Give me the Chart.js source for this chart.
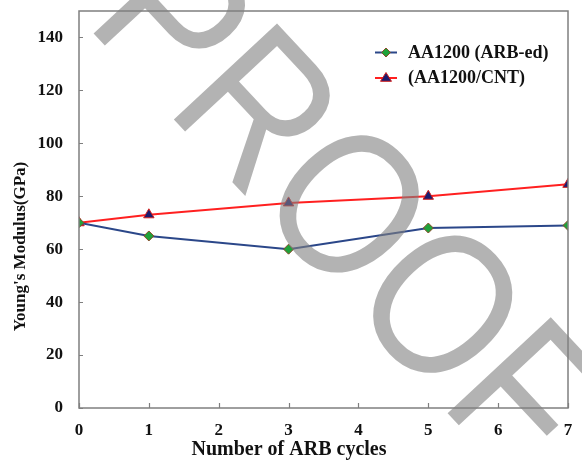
<!DOCTYPE html>
<html>
<head>
<meta charset="utf-8">
<script src="https://cdn.jsdelivr.net/npm/chart.js@4.4.1/dist/chart.umd.min.js"></script>
<style>
  html, body { margin: 0; padding: 0; background: #ffffff; }
  #wrap { width: 582px; height: 462px; position: relative; }
</style>
</head>
<body>
<div id="wrap"><canvas id="c" width="582" height="462"></canvas></div>
<script>
// ---- data ----
const cycles = [0, 1, 3, 5, 7];
const arbEd = [70, 65, 60, 68, 69];
const arbCnt = [70, 73, 77.5, 80, 84.5];
const seriesLabels = ['AA1200 (ARB-ed)', '(AA1200/CNT)'];
const xTitle = 'Number of ARB cycles';
const yTitle = "Young's Modulus(GPa)";
const watermarkText = 'PROOF';

const serif = "'Liberation Serif', 'Times New Roman', serif";

const toPoints = (xs, ys) => xs.map((x, i) => ({ x: x, y: ys[i] }));

const frameAndTicks = {
  id: 'frameAndTicks',
  afterDatasetsDraw(chart) {
    const { ctx, chartArea: a, scales } = chart;
    ctx.save();
    ctx.strokeStyle = '#7f7f7f';
    ctx.lineWidth = 1.5;
    ctx.strokeRect(a.left, a.top, a.right - a.left, a.bottom - a.top);
    ctx.lineWidth = 1.2;
    ctx.beginPath();
    scales.y.ticks.forEach(t => {
      const py = Math.round(scales.y.getPixelForValue(t.value)) + 0.5;
      ctx.moveTo(a.left, py); ctx.lineTo(a.left + 4, py);
    });
    scales.x.ticks.forEach(t => {
      const px = Math.round(scales.x.getPixelForValue(t.value)) + 0.5;
      ctx.moveTo(px, a.bottom); ctx.lineTo(px, a.bottom - 5);
    });
    ctx.stroke();
    ctx.fillStyle = '#111111';
    ctx.textAlign = 'center';
    ctx.textBaseline = 'middle';
    // x axis title
    ctx.font = 'bold 20px ' + serif;
    ctx.fillText(xTitle, a.left + 210, 450);
    // y axis title
    ctx.save();
    ctx.translate(21, (a.top + a.bottom) / 2 + 37);
    ctx.rotate(-Math.PI / 2);
    ctx.font = 'bold 17px ' + serif;
    ctx.fillText(yTitle, 0, 0);
    ctx.restore();
    ctx.restore();
  }
};

const insideLegend = {
  id: 'insideLegend',
  afterDatasetsDraw(chart) {
    const { ctx } = chart;
    const x0 = 375, x1 = 397, tx = 408;
    const rows = [52.5, 78];
    ctx.save();
    chart.data.datasets.forEach((ds, i) => {
      const y = rows[i];
      ctx.strokeStyle = ds.borderColor;
      ctx.lineWidth = 2;
      ctx.beginPath(); ctx.moveTo(x0, y); ctx.lineTo(x1, y); ctx.stroke();
      const cx = (x0 + x1) / 2;
      ctx.fillStyle = ds.pointBackgroundColor;
      ctx.strokeStyle = ds.pointBorderColor;
      ctx.lineWidth = 1;
      ctx.beginPath();
      if (ds.pointStyle === 'rectRot') {
        const r = 4.5;
        ctx.moveTo(cx, y - r); ctx.lineTo(cx + r, y); ctx.lineTo(cx, y + r); ctx.lineTo(cx - r, y);
      } else {
        const r = 5.5;
        ctx.moveTo(cx, y - r); ctx.lineTo(cx + r, y + r * 0.6); ctx.lineTo(cx - r, y + r * 0.6);
      }
      ctx.closePath(); ctx.fill(); ctx.stroke();
      ctx.fillStyle = '#111111';
      ctx.font = 'bold 18px ' + serif;
      ctx.textBaseline = 'middle';
      ctx.textAlign = 'left';
      ctx.fillText(ds.label, tx, y + 0.5);
    });
    ctx.restore();
  }
};

const watermark = {
  id: 'watermark',
  afterDraw(chart) {
    const { ctx } = chart;
    ctx.save();
    ctx.translate(83.7, 23.1);
    ctx.rotate(47 * Math.PI / 180);
    ctx.scale(0.86, 1);
    ctx.font = "205px 'Liberation Sans', Arial, sans-serif";
    ctx.fillStyle = 'rgba(128,128,128,0.6)';
    ctx.textBaseline = 'alphabetic';
    ctx.textAlign = 'left';
    ctx.fillText(watermarkText, 0, 0);
    ctx.restore();
  }
};

new Chart(document.getElementById('c'), {
  type: 'line',
  data: {
    datasets: [
      {
        label: seriesLabels[0],
        data: toPoints(cycles, arbEd),
        borderColor: '#2b4789',
        borderWidth: 2,
        pointStyle: 'rectRot',
        pointRadius: 5,
        pointBackgroundColor: '#1fa23a',
        pointBorderColor: '#8a4a2a',
        pointBorderWidth: 1,
        tension: 0
      },
      {
        label: seriesLabels[1],
        data: toPoints(cycles, arbCnt),
        borderColor: '#ff2020',
        borderWidth: 2,
        pointStyle: 'triangle',
        pointRadius: 6,
        pointBackgroundColor: '#1b1b6e',
        pointBorderColor: '#d02020',
        pointBorderWidth: 1,
        tension: 0
      }
    ]
  },
  options: {
    responsive: false,
    animation: false,
    devicePixelRatio: 1,
    layout: { padding: { left: 0, top: 11, right: 14, bottom: 0 } },
    plugins: {
      legend: { display: false },
      tooltip: { enabled: false }
    },
    scales: {
      x: {
        type: 'linear',
        min: 0, max: 7,
        grid: { display: false, drawTicks: false },
        border: { display: false },
        ticks: {
          stepSize: 1,
          padding: 12,
          color: '#111111',
          font: { family: serif, size: 17, weight: 'bold' }
        },
        title: { display: false },
        afterFit(scale) {
          scale.height = 54;
          scale.paddingLeft = 0; scale.paddingRight = 0;
        }
      },
      y: {
        type: 'linear',
        min: 0, max: 150,
        grid: { display: false, drawTicks: false },
        border: { display: false },
        afterBuildTicks(scale) {
          scale.ticks = scale.ticks.filter(t => t.value <= 140 && t.value % 20 === 0);
        },
        ticks: {
          stepSize: 20,
          padding: 16,
          color: '#111111',
          font: { family: serif, size: 17, weight: 'bold' }
        },
        title: { display: false },
        afterFit(scale) {
          scale.width = 79;
          scale.paddingTop = 0; scale.paddingBottom = 0;
        }
      }
    }
  },
  plugins: [frameAndTicks, insideLegend, watermark]
});
</script>
</body>
</html>
